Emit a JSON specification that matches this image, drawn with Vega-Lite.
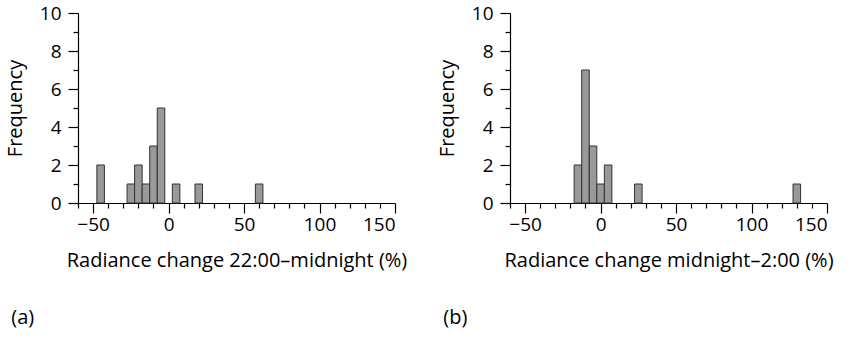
{
  "$schema": "https://vega.github.io/schema/vega-lite/v6.json",
  "padding": {"left": 5, "top": 4, "right": 5, "bottom": 5},
  "background": "white",
  "spacing": 30,
  "datasets": {
    "a": [
      {"bin_start": -47.5, "bin_end": -42.5, "count": 2},
      {"bin_start": -27.5, "bin_end": -22.5, "count": 1},
      {"bin_start": -22.5, "bin_end": -17.5, "count": 2},
      {"bin_start": -17.5, "bin_end": -12.5, "count": 1},
      {"bin_start": -12.5, "bin_end": -7.5, "count": 3},
      {"bin_start": -7.5, "bin_end": -2.5, "count": 5},
      {"bin_start": 2.5, "bin_end": 7.5, "count": 1},
      {"bin_start": 17.5, "bin_end": 22.5, "count": 1},
      {"bin_start": 57.5, "bin_end": 62.5, "count": 1}
    ],
    "b": [
      {"bin_start": -17.5, "bin_end": -12.5, "count": 2},
      {"bin_start": -12.5, "bin_end": -7.5, "count": 7},
      {"bin_start": -7.5, "bin_end": -2.5, "count": 3},
      {"bin_start": -2.5, "bin_end": 2.5, "count": 1},
      {"bin_start": 2.5, "bin_end": 7.5, "count": 2},
      {"bin_start": 22.5, "bin_end": 27.5, "count": 1},
      {"bin_start": 127.5, "bin_end": 132.5, "count": 1}
    ]
  },
  "hconcat": [
    {
      "width": 317,
      "height": 190,
      "title": {"text": "(a)", "orient": "bottom", "anchor": "start", "offset": 38, "dx": 6},
      "layer": [
        {
          "data": {"name": "a"},
          "mark": {"type": "rect", "fill": "#999999", "stroke": "#333333", "strokeWidth": 1},
          "encoding": {
            "x": {"field": "bin_start", "type": "quantitative",
                  "scale": {"domain": [-60, 150], "nice": false, "zero": false},
                  "axis": {"title": "Radiance change 22:00–midnight (%)",
                           "values": [-60, -50, -40, -30, -20, -10, 0, 10, 20, 30, 40, 50, 60, 70, 80, 90, 100, 110, 120, 130, 140, 150],
                           "labelExpr": "datum.value % 50 === 0 ? datum.label : ''",
                           "tickSize": {"condition": {"test": "datum.value % 50 === 0", "value": 10}, "value": 5}}},
            "x2": {"field": "bin_end"},
            "y": {"field": "count", "type": "quantitative",
                  "scale": {"domain": [0, 10], "nice": false},
                  "axis": {"title": "Frequency",
                           "values": [0, 1, 2, 3, 4, 5, 6, 7, 8, 9, 10],
                           "labelExpr": "datum.value % 2 === 0 ? datum.label : ''",
                           "tickSize": {"condition": {"test": "datum.value % 2 === 0", "value": 10}, "value": 5}}},
            "y2": {"datum": 0}
          }
        },
        {
          "mark": {"type": "rule", "color": "#777777", "strokeWidth": 1.2},
          "encoding": {
            "x": {"datum": 0},
            "y": {"datum": 0},
            "y2": {"datum": 10}
          }
        }
      ]
    },
    {
      "width": 317,
      "height": 190,
      "title": {"text": "(b)", "orient": "bottom", "anchor": "start", "offset": 38, "dx": 6},
      "layer": [
        {
          "data": {"name": "b"},
          "mark": {"type": "rect", "fill": "#999999", "stroke": "#333333", "strokeWidth": 1},
          "encoding": {
            "x": {"field": "bin_start", "type": "quantitative",
                  "scale": {"domain": [-60, 150], "nice": false, "zero": false},
                  "axis": {"title": "Radiance change midnight–2:00 (%)",
                           "values": [-60, -50, -40, -30, -20, -10, 0, 10, 20, 30, 40, 50, 60, 70, 80, 90, 100, 110, 120, 130, 140, 150],
                           "labelExpr": "datum.value % 50 === 0 ? datum.label : ''",
                           "tickSize": {"condition": {"test": "datum.value % 50 === 0", "value": 10}, "value": 5}}},
            "x2": {"field": "bin_end"},
            "y": {"field": "count", "type": "quantitative",
                  "scale": {"domain": [0, 10], "nice": false},
                  "axis": {"title": "Frequency",
                           "values": [0, 1, 2, 3, 4, 5, 6, 7, 8, 9, 10],
                           "labelExpr": "datum.value % 2 === 0 ? datum.label : ''",
                           "tickSize": {"condition": {"test": "datum.value % 2 === 0", "value": 10}, "value": 5}}},
            "y2": {"datum": 0}
          }
        },
        {
          "mark": {"type": "rule", "color": "#000000", "strokeWidth": 1.2},
          "encoding": {
            "x": {"datum": 0},
            "y": {"datum": 0},
            "y2": {"datum": 10}
          }
        }
      ]
    }
  ],
  "config": {
    "font": "Open Sans",
    "view": {"stroke": null},
    "axis": {
      "grid": false,
      "tickCount": 100,
      "format": "d",
      "domainColor": "#000000",
      "domainWidth": 1.2,
      "tickColor": "#000000",
      "tickWidth": 1.2,
      "labelFont": "Open Sans",
      "labelFontSize": 19,
      "labelColor": "#000000",
      "labelOverlap": false,
      "titleFont": "Open Sans",
      "titleFontSize": 20,
      "titleFontWeight": "normal",
      "titleColor": "#000000"
    },
    "axisX": {"labelPadding": 2, "titlePadding": 16},
    "axisY": {"labelPadding": 7, "titlePadding": 14},
    "title": {"font": "Open Sans", "fontSize": 20, "fontWeight": "normal", "color": "#000000"}
  }
}
